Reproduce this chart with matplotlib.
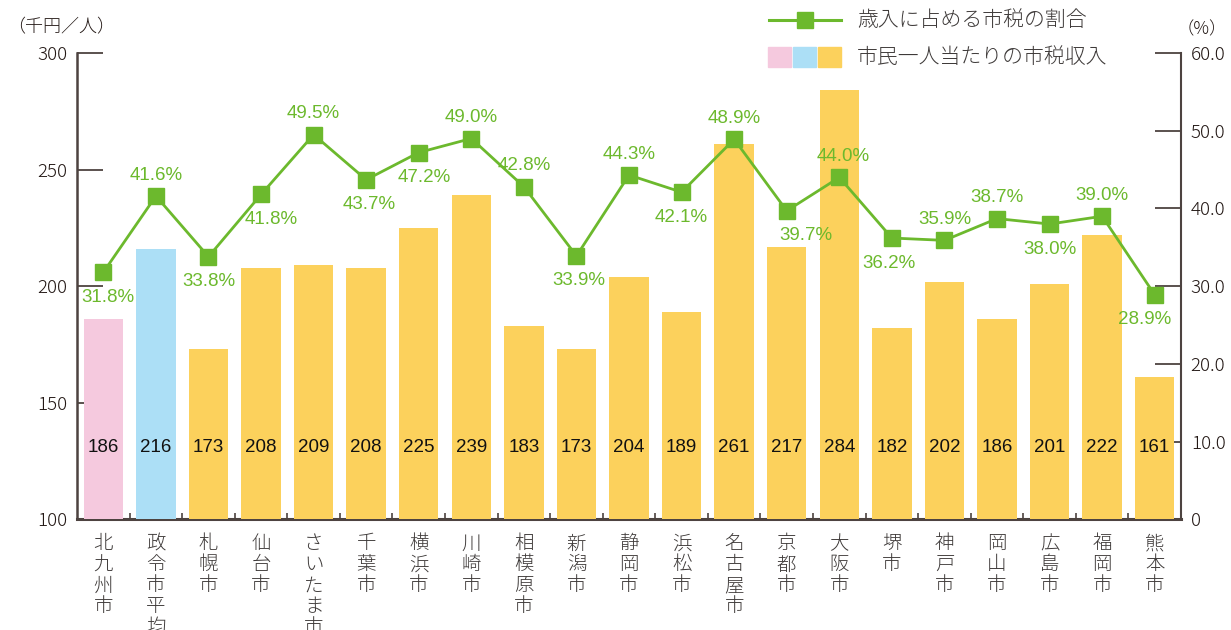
import matplotlib
matplotlib.use("Agg")
import matplotlib.pyplot as plt
from matplotlib.patches import Rectangle
from matplotlib.lines import Line2D

plt.rcParams['font.family'] = ['Noto Sans CJK JP', 'DejaVu Sans']
plt.rcParams['font.weight'] = 'light'

cities = ['北九州市', '政令市平均', '札幌市', '仙台市', 'さいたま市', '千葉市', '横浜市',
          '川崎市', '相模原市', '新潟市', '静岡市', '浜松市', '名古屋市', '京都市',
          '大阪市', '堺市', '神戸市', '岡山市', '広島市', '福岡市', '熊本市']
income = [186, 216, 173, 208, 209, 208, 225, 239, 183, 173, 204, 189, 261, 217,
          284, 182, 202, 186, 201, 222, 161]
share = [31.8, 41.6, 33.8, 41.8, 49.5, 43.7, 47.2, 49.0, 42.8, 33.9, 44.3, 42.1,
         48.9, 39.7, 44.0, 36.2, 35.9, 38.7, 38.0, 39.0, 28.9]
left_ticks = [100, 150, 200, 250, 300]
right_ticks = [0, 10, 20, 30, 40, 50, 60]

# label placement for the percentages: 1 = above marker, -1 = below; dx in points
above = [-1, 1, -1, -1, 1, -1, -1, 1, 1, -1, 1, -1, 1, -1, 1, -1, 1, 1, -1, 1, -1]
dx = [3, 0, 0, 7, 0, 2, 4, 0, 0, 2, 0, 0, 0, 14, 3, -2, 0, 0, 0, 0, -7]

PINK = '#f5c9de'
BLUE = '#acdff6'
YELLOW = '#fcd15c'
GREEN = '#6cb92d'
AXC = '#4d4340'
LATIN = ['Liberation Sans', 'DejaVu Sans']

fig = plt.figure(figsize=(12.31, 6.30), dpi=100)
rect = [0.0626, 0.1754, 0.8968, 0.7405]

# back axes: spines and ticks (drawn under the bars)
ax = fig.add_axes(rect)
ax.set_xlim(-0.5, len(cities) - 0.5)
ax.set_ylim(100, 300)
ax.set_yticks(left_ticks)
ax.tick_params(axis='y', direction='in', length=19, width=1.3, color=AXC,
               labelsize=13.5, labelcolor='#231815', pad=7)
ax.set_xticks(range(len(cities)))
ax.set_xticklabels(['\n'.join(c) for c in cities], fontsize=14, linespacing=1.0,
                   color='#3e3a39', va='top')
ax.tick_params(axis='x', length=0, pad=10)
ax.set_xticks([i + 0.5 for i in range(len(cities) - 1)], minor=True)
ax.tick_params(axis='x', which='minor', direction='in', length=4, width=1.2, color=AXC)
ax.spines['top'].set_visible(False)
ax.spines['right'].set_visible(False)
ax.spines['left'].set_color(AXC)
ax.spines['left'].set_linewidth(1.8)
ax.spines['bottom'].set_color(AXC)
ax.spines['bottom'].set_linewidth(2.2)

axr = ax.twinx()
axr.set_ylim(0, 60)
axr.set_yticks(right_ticks)
axr.set_yticklabels(['0'] + ['%.1f' % t for t in right_ticks[1:]])
axr.tick_params(axis='y', direction='in', length=19, width=1.3, color=AXC,
                labelsize=13.5, labelcolor='#231815', pad=7)
for s in ['top', 'left', 'bottom']:
    axr.spines[s].set_visible(False)
axr.spines['right'].set_color(AXC)
axr.spines['right'].set_linewidth(1.5)

# bars
axb = ax.twinx()
axb.set_zorder(3)
axb.patch.set_visible(False)
axb.axis('off')
colors = [PINK, BLUE] + [YELLOW] * (len(cities) - 2)
axb.bar(range(len(cities)), income, width=0.75, color=colors)
axb.set_ylim(100, 300)
for i, v in enumerate(income):
    axb.text(i, 131, str(v), ha='center', va='center', fontsize=13.5,
             family=LATIN, weight='normal', color='#111111')

# line
axl = ax.twinx()
axl.set_zorder(4)
axl.patch.set_visible(False)
axl.set_ylim(0, 60)
axl.axis('off')
axl.plot(range(len(cities)), share, color=GREEN, lw=2, marker='s', ms=12,
         mfc=GREEN, mec=GREEN, clip_on=False)
for i, v in enumerate(share):
    oy = 15 if above[i] > 0 else -18
    axl.annotate('%.1f%%' % v, (i, v), xytext=(dx[i], oy), textcoords='offset points',
                 ha='center', va='center', fontsize=13.5, color=GREEN,
                 family=LATIN, weight='normal')

# axis unit labels
fig.text(0.006, 0.957, '（千円／人）', fontsize=13, color='#231815', va='center')
fig.text(0.976, 0.954, '（%）', fontsize=12.5, color='#231815', va='center', ha='center')

# legend drawn by hand in figure coords
fig.add_artist(Line2D([0.6247, 0.6832], [0.968, 0.968], color=GREEN, lw=2.2,
                      transform=fig.transFigure))
fig.add_artist(Line2D([0.654], [0.968], color=GREEN, marker='s', ms=12, lw=0,
                      transform=fig.transFigure))
for k, c in enumerate([PINK, BLUE, YELLOW]):
    fig.add_artist(Rectangle((0.6239 + k * 0.0205, 0.893), 0.0185, 0.032,
                             color=c, transform=fig.transFigure))
fig.text(0.696, 0.968, '歳入に占める市税の割合', fontsize=15, color='#3e3a39', va='center')
fig.text(0.696, 0.909, '市民一人当たりの市税収入', fontsize=15, color='#3e3a39', va='center')

fig.savefig('out.png', dpi=100)
